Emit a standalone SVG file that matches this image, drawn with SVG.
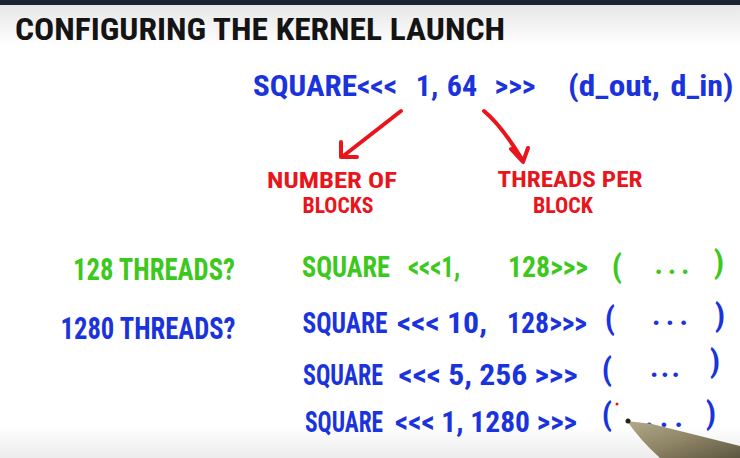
<svg xmlns="http://www.w3.org/2000/svg" width="740" height="458" viewBox="0 0 740 458">
<defs>
<linearGradient id="bg" x1="0" y1="0" x2="0" y2="1">
<stop offset="0" stop-color="#e4e4e4"/>
<stop offset="0.1" stop-color="#ffffff"/>
<stop offset="0.93" stop-color="#ffffff"/>
<stop offset="1" stop-color="#ececec"/>
</linearGradient>
<linearGradient id="pen" x1="0" y1="0" x2="1" y2="1">
<stop offset="0" stop-color="#b3aa8a"/>
<stop offset="0.5" stop-color="#8e8466"/>
<stop offset="1" stop-color="#5d5640"/>
</linearGradient>
</defs>
<style>
text{font-family:"Roboto Condensed","Open Sans",sans-serif;font-stretch:condensed;font-weight:bold;text-anchor:middle;}
.k{fill:#141414;}
.b{fill:#1b33dc;}
.g{fill:#3cc81c;}
.r{fill:#e8161c;font-size:22px;}
.row{font-size:29px;}
.par{font-size:32px;}
.arr{fill:none;stroke:#e8161c;stroke-width:4;stroke-linecap:round;stroke-linejoin:round;}
</style>
<rect width="740" height="458" fill="url(#bg)"/>
<rect width="740" height="5" fill="#1c2430"/>

<g id="title"><text class="k" x="260" y="40" font-size="31" textLength="490" lengthAdjust="spacingAndGlyphs">CONFIGURING THE  KERNEL LAUNCH</text></g>

<g id="formula" class="b" font-size="30">
<text class="b" x="305" y="96" textLength="104" lengthAdjust="spacingAndGlyphs">SQUARE</text>
<text class="b" x="377" y="96">&lt;&lt;&lt;</text>
<text class="b" x="427" y="96">1,</text>
<text class="b" x="462" y="96">64</text>
<text class="b" x="515" y="96">&gt;&gt;&gt;</text>
<text class="b" x="614" y="96" textLength="92" lengthAdjust="spacingAndGlyphs">(d_out,</text>
<text class="b" x="702" y="96" textLength="63" lengthAdjust="spacingAndGlyphs">d_in)</text>
</g>

<g id="connectors">
<path class="arr" d="M401,111 L342,157 M341,142 L341,157 L357,157"/>
<path class="arr" d="M484,111 Q502,126 523,161 M511,149 L523,162 L528,148"/>
</g>

<g id="num-blocks">
<text class="r" x="332" y="188" textLength="130" lengthAdjust="spacingAndGlyphs">NUMBER OF</text>
<text class="r" x="338" y="213" textLength="71" lengthAdjust="spacingAndGlyphs">BLOCKS</text>
</g>

<g id="threads-per-block">
<text class="r" x="570" y="187" textLength="145" lengthAdjust="spacingAndGlyphs">THREADS PER</text>
<text class="r" x="563" y="213" textLength="60" lengthAdjust="spacingAndGlyphs">BLOCK</text>
</g>

<g id="q128">
<text class="g" x="154" y="280" font-size="32" textLength="162" lengthAdjust="spacingAndGlyphs">128 THREADS?</text>
</g>
<g id="row1">
<text class="g row" x="346" y="277" textLength="88" lengthAdjust="spacingAndGlyphs">SQUARE</text>
<text class="g row" x="434" y="277" textLength="52" lengthAdjust="spacingAndGlyphs">&lt;&lt;&lt;1,</text>
<text class="g row" x="548" y="277" textLength="80" lengthAdjust="spacingAndGlyphs">128&gt;&gt;&gt;</text>
<text class="g par" x="617" y="277">(</text>
<text class="g row" x="672" y="274" textLength="35" lengthAdjust="spacing">...</text>
<text class="g par" x="719" y="273">)</text>
</g>

<g id="q1280">
<text class="b" x="148" y="339" font-size="32" textLength="175" lengthAdjust="spacingAndGlyphs">1280 THREADS?</text>
</g>
<g id="row2">
<text class="b row" x="345" y="333" textLength="85" lengthAdjust="spacingAndGlyphs">SQUARE</text>
<text class="b row" x="442" y="333" textLength="90" lengthAdjust="spacingAndGlyphs">&lt;&lt;&lt; 10,</text>
<text class="b row" x="547" y="333" textLength="80" lengthAdjust="spacingAndGlyphs">128&gt;&gt;&gt;</text>
<text class="b par" x="610" y="329">(</text>
<text class="b row" x="670" y="325" textLength="36" lengthAdjust="spacing">...</text>
<text class="b par" x="720" y="326">)</text>
</g>
<g id="row3">
<text class="b row" x="343" y="385" textLength="80" lengthAdjust="spacingAndGlyphs">SQUARE</text>
<text class="b row" x="488" y="385" textLength="179" lengthAdjust="spacingAndGlyphs">&lt;&lt;&lt; 5, 256 &gt;&gt;&gt;</text>
<text class="b par" x="607" y="380">(</text>
<text class="b row" x="665" y="377" textLength="30" lengthAdjust="spacing">...</text>
<text class="b par" x="715" y="372">)</text>
</g>
<g id="row4">
<text class="b row" x="344" y="432" textLength="78" lengthAdjust="spacingAndGlyphs">SQUARE</text>
<text class="b row" x="486" y="432" textLength="182" lengthAdjust="spacingAndGlyphs">&lt;&lt;&lt; 1, 1280 &gt;&gt;&gt;</text>
<text class="b par" x="607" y="425">(</text>
<text class="b row" x="664" y="427" textLength="38" lengthAdjust="spacing">...</text>
<text class="b par" x="711" y="424">)</text>
</g>

<g id="pen-tool">
<path d="M627,421 L652,424 Q700,436 740,446 L740,458 L660,458 Q640,440 627,421 Z" fill="url(#pen)"/>
<circle cx="628" cy="421" r="2.5" fill="#222"/>
<circle cx="617" cy="404" r="1.5" fill="#e8161c"/>
</g>
</svg>
